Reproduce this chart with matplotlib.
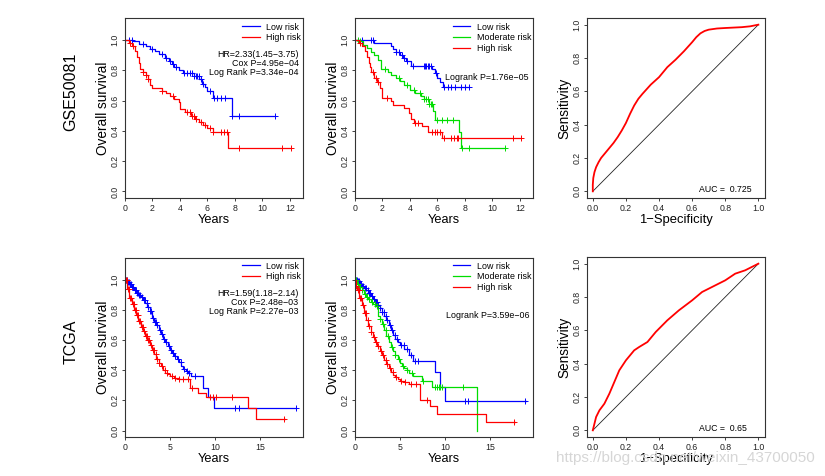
import numpy as np
import matplotlib
matplotlib.use("Agg")
import matplotlib.pyplot as plt

plt.rcParams['font.family'] = ['Liberation Sans', 'DejaVu Sans']

# ---------------- data ----------------
# GSE50081, 2 groups
g2_low_t = [0.6, 1.0, 1.5, 1.8, 2.2, 2.5, 2.9, 3.2, 3.4, 3.6, 3.9, 4.2, 5.0, 5.4, 5.6, 5.8, 6.0, 6.4, 7.75]
g2_low_s = [0.99, 0.975, 0.96, 0.94, 0.925, 0.905, 0.88, 0.86, 0.84, 0.82, 0.80, 0.785, 0.76, 0.74, 0.71, 0.69, 0.66, 0.62, 0.50]
g2_low_end = 10.9
g2_low_c = [0.3, 0.5, 1.3, 2.0, 2.7, 3.0, 3.3, 3.5, 3.7, 4.3, 4.5, 4.7, 4.9, 5.05, 5.15, 5.25, 5.35, 5.5, 5.7,
            6.2, 6.5, 6.7, 7.0, 7.3, 7.8, 8.3, 10.9]
g2_high_t = [0.3, 0.5, 0.7, 0.85, 1.0, 1.1, 1.3, 1.5, 1.7, 1.85, 2.0, 2.7, 3.0, 3.3, 3.6, 3.9, 4.0, 4.4, 4.8,
             5.1, 5.4, 5.7, 6.0, 6.4, 7.5]
g2_high_s = [0.98, 0.96, 0.93, 0.89, 0.85, 0.81, 0.79, 0.77, 0.74, 0.70, 0.68, 0.665, 0.65, 0.63, 0.61, 0.59,
             0.545, 0.525, 0.50, 0.48, 0.46, 0.44, 0.42, 0.39, 0.29]
g2_high_end = 12.1
g2_high_c = [0.4, 0.6, 1.3, 1.5, 1.7, 2.7, 3.5, 4.5, 4.7, 4.9, 5.0, 5.2, 5.5, 5.8, 6.2, 6.4, 7.0, 7.2, 7.4,
             8.3, 11.4, 12.1]

# GSE50081, 3 groups
g3_low_t = [1.4, 2.6, 2.8, 3.0, 3.3, 3.5, 3.7, 4.1, 5.6, 5.8, 6.0, 6.2, 6.4]
g3_low_s = [0.98, 0.96, 0.94, 0.92, 0.90, 0.88, 0.86, 0.83, 0.81, 0.78, 0.75, 0.72, 0.69]
g3_low_end = 8.3
g3_low_c = [0.5, 1.2, 1.3, 3.0, 3.2, 3.4, 3.6, 3.8, 4.2, 5.0, 5.1, 5.2, 5.3, 5.4, 5.5, 5.9, 6.5, 6.8,
            7.0, 7.3, 7.7, 8.0, 8.3]
g3_mod_t = [0.3, 0.6, 0.9, 1.2, 1.4, 1.7, 1.9, 2.4, 2.6, 3.0, 3.3, 3.6, 4.0, 4.4, 4.8, 5.0, 5.4, 5.7, 5.8, 7.6, 7.7]
g3_mod_s = [0.99, 0.97, 0.95, 0.92, 0.90, 0.87, 0.81, 0.79, 0.77, 0.75, 0.73, 0.70, 0.67, 0.65, 0.63, 0.61,
            0.58, 0.53, 0.475, 0.39, 0.285]
g3_mod_end = 10.9
g3_mod_c = [0.2, 0.4, 2.2, 3.2, 3.8, 4.3, 4.7, 5.0, 5.2, 5.3, 5.4, 5.5, 5.6, 6.0, 6.3, 6.7, 7.1, 7.8, 8.3, 10.9]
g3_high_t = [0.3, 0.5, 0.7, 0.9, 1.0, 1.1, 1.2, 1.4, 1.6, 1.8, 2.0, 2.6, 2.8, 3.6, 3.9, 4.1, 4.3, 4.9, 5.3, 6.3]
g3_high_s = [0.98, 0.96, 0.93, 0.89, 0.85, 0.82, 0.79, 0.75, 0.72, 0.68, 0.62, 0.60, 0.57, 0.55, 0.52, 0.48,
             0.455, 0.43, 0.39, 0.35]
g3_high_end = 12.1
g3_high_c = [0.4, 1.3, 1.5, 1.7, 2.3, 4.4, 4.6, 5.6, 5.8, 6.0, 6.2, 6.5, 7.0, 7.2, 7.4, 7.5, 11.5, 12.1]

# TCGA, 2 groups
t2_low_t = [0.25, 0.5, 0.75, 1.0, 1.25, 1.5, 1.75, 2.0, 2.25, 2.5, 2.75, 3.0, 3.25, 3.5, 3.75, 4.0, 4.25, 4.5,
            4.75, 5.0, 5.25, 5.5, 5.75, 6.0, 6.25, 6.5, 6.75, 7.0, 7.3, 8.7, 9.25, 9.9]
t2_low_s = [0.985, 0.97, 0.955, 0.935, 0.915, 0.90, 0.885, 0.865, 0.845, 0.82, 0.79, 0.75, 0.72, 0.70, 0.67,
            0.64, 0.61, 0.585, 0.56, 0.535, 0.515, 0.495, 0.475, 0.455, 0.43, 0.41, 0.395, 0.38, 0.365, 0.28,
            0.22, 0.15]
t2_low_end = 19.0
t2_low_c = [0.1, 0.2, 0.3, 0.4, 0.6, 0.7, 0.8, 0.9, 1.1, 1.2, 1.3, 1.4, 1.6, 1.7, 1.9, 2.1, 2.2, 2.4, 2.6,
            2.8, 2.9, 3.1, 3.3, 3.4, 3.6, 3.9, 4.1, 4.3, 4.6, 4.9, 5.1, 5.3, 5.6, 5.9, 6.2, 6.6, 6.9, 7.1,
            7.8, 12.2, 12.7, 19.0]
t2_high_t = [0.25, 0.5, 0.75, 1.0, 1.25, 1.5, 1.75, 2.0, 2.25, 2.5, 2.75, 3.0, 3.25, 3.5, 3.75, 4.0, 4.25,
             4.5, 4.75, 5.0, 5.5, 6.0, 7.2, 8.1, 9.0, 13.7, 14.6]
t2_high_s = [0.94, 0.88, 0.84, 0.80, 0.77, 0.73, 0.69, 0.66, 0.63, 0.60, 0.57, 0.535, 0.51, 0.475, 0.45,
             0.425, 0.40, 0.385, 0.375, 0.365, 0.35, 0.345, 0.28, 0.25, 0.22, 0.15, 0.075]
t2_high_end = 17.8
t2_high_c = [0.1, 0.2, 0.35, 0.45, 0.6, 0.7, 0.85, 0.95, 1.1, 1.2, 1.35, 1.45, 1.6, 1.7, 1.85, 1.95, 2.1,
             2.3, 2.4, 2.6, 2.7, 2.9, 3.1, 3.2, 3.4, 3.6, 3.8, 4.1, 4.4, 4.7, 5.2, 5.6, 6.0, 6.5, 7.0, 7.5,
             9.5, 9.8, 10.1, 11.9, 17.7]

# TCGA, 3 groups
t3_low_t = [0.25, 0.5, 0.75, 1.0, 1.25, 1.5, 1.75, 2.0, 2.25, 2.5, 2.75, 3.0, 3.25, 3.5, 3.75, 4.0, 4.25, 4.5,
            4.75, 5.0, 5.5, 6.0, 6.4, 8.9, 9.4, 10.0]
t3_low_s = [0.99, 0.975, 0.96, 0.945, 0.93, 0.91, 0.89, 0.875, 0.855, 0.835, 0.81, 0.785, 0.76, 0.735, 0.70,
            0.665, 0.635, 0.605, 0.585, 0.565, 0.54, 0.50, 0.46, 0.39, 0.29, 0.195]
t3_low_end = 19.0
t3_low_c = [0.1, 0.2, 0.3, 0.4, 0.6, 0.7, 0.8, 0.9, 1.1, 1.2, 1.4, 1.6, 1.7, 1.9, 2.1, 2.3, 2.4, 2.6, 2.8,
            3.0, 3.2, 3.4, 3.6, 3.9, 4.1, 4.4, 4.7, 5.1, 5.4, 5.8, 6.2, 6.7, 7.0, 12.2, 12.6, 18.9]
t3_mod_t = [0.25, 0.5, 0.75, 1.0, 1.25, 1.5, 1.75, 2.0, 2.25, 2.5, 2.6, 2.75, 3.0, 3.25, 3.5, 3.75, 4.0, 4.25,
            4.5, 4.75, 5.0, 5.25, 5.5, 5.75, 6.0, 6.5, 7.5, 8.6, 13.6]
t3_mod_s = [0.97, 0.95, 0.93, 0.905, 0.885, 0.87, 0.855, 0.84, 0.825, 0.815, 0.76, 0.74, 0.71, 0.67, 0.63,
            0.59, 0.555, 0.525, 0.50, 0.475, 0.45, 0.43, 0.415, 0.40, 0.385, 0.365, 0.33, 0.29, 0.0]
t3_mod_end = 13.6
t3_mod_c = [0.15, 0.35, 0.55, 0.8, 1.1, 1.3, 1.6, 1.9, 2.2, 2.4, 2.8, 3.1, 3.4, 3.7, 4.1, 4.5, 4.9, 5.3,
            5.8, 6.3, 7.6, 8.9, 9.1, 9.3, 9.5, 9.7, 12.0]
t3_high_t = [0.1, 0.25, 0.5, 0.75, 1.0, 1.25, 1.5, 1.75, 2.0, 2.25, 2.5, 2.75, 3.0, 3.25, 3.5, 3.75, 4.0,
             4.25, 4.5, 4.75, 5.0, 5.5, 6.0, 7.2, 8.3, 9.1, 14.6]
t3_high_s = [0.96, 0.93, 0.88, 0.83, 0.78, 0.735, 0.695, 0.655, 0.62, 0.59, 0.56, 0.53, 0.50, 0.47, 0.44,
             0.415, 0.39, 0.37, 0.355, 0.34, 0.33, 0.32, 0.31, 0.20, 0.16, 0.11, 0.055]
t3_high_end = 17.8
t3_high_c = [0.15, 0.3, 0.4, 0.6, 0.7, 0.9, 1.1, 1.2, 1.4, 1.6, 1.8, 2.1, 2.3, 2.6, 2.9, 3.1, 3.4, 3.6,
             3.9, 4.2, 4.6, 5.1, 5.6, 6.2, 6.8, 8.0, 17.7]

# ROC curves
roc1_fpr = [0.0, 0.0, 0.003, 0.01, 0.02, 0.035, 0.05, 0.075, 0.1, 0.125, 0.15, 0.175, 0.2, 0.225, 0.25, 0.275,
            0.3, 0.35, 0.4, 0.45, 0.5, 0.55, 0.6, 0.625, 0.65, 0.675, 0.7, 0.75, 0.8, 0.9, 0.95, 1.0]
roc1_tpr = [0.0, 0.04, 0.08, 0.115, 0.145, 0.175, 0.2, 0.23, 0.26, 0.29, 0.325, 0.365, 0.41, 0.465, 0.515, 0.555,
            0.585, 0.64, 0.685, 0.745, 0.79, 0.84, 0.895, 0.925, 0.948, 0.962, 0.97, 0.977, 0.98, 0.985, 0.99, 1.0]
roc2_fpr = [0.0, 0.01, 0.02, 0.04, 0.07, 0.1, 0.13, 0.16, 0.2, 0.25, 0.28, 0.33, 0.38, 0.45, 0.52, 0.6, 0.66,
            0.72, 0.8, 0.86, 0.92, 1.0]
roc2_tpr = [0.0, 0.04, 0.08, 0.12, 0.16, 0.22, 0.29, 0.36, 0.42, 0.48, 0.50, 0.53, 0.59, 0.66, 0.72, 0.78,
            0.83, 0.86, 0.90, 0.94, 0.96, 1.0]
diag = [0.0, 1.0]
auc_labels = ['AUC =  0.725', 'AUC =  0.65']

row_labels = ['GSE50081', 'TCGA']
km_ticks_top = [0, 2, 4, 6, 8, 10, 12]
km_ticks_bot = [0, 5, 10, 15]
prob_ticks = [0.0, 0.2, 0.4, 0.6, 0.8, 1.0]

BLUE, RED, GREEN = '#0000FF', '#FF0000', '#00DD00'

# ---------------- figure ----------------
W, H = 825, 476
fig = plt.figure(figsize=(W / 100, H / 100), dpi=100)


def axes_px(l, t, r, b):
    return fig.add_axes([l / W, 1 - b / H, (r - l) / W, (b - t) / H])


def style(ax, xt, yt):
    for sp in ax.spines.values():
        sp.set_linewidth(0.8)
        sp.set_color('#333333')
    ax.set_xticks(xt)
    ax.set_yticks(yt)
    ax.set_xticklabels([f'{v:g}' for v in xt])
    ax.set_yticklabels([f'{v:.1f}' for v in yt])
    ax.tick_params(labelsize=6.3, length=2.5, width=0.6, pad=1.5, colors='#222222')
    for lab in ax.get_yticklabels():
        lab.set_rotation(90)
        lab.set_va('center')


def km(ax, t, s, end, cens, color, label):
    tt = np.r_[0.0, t, end]
    ss = np.r_[1.0, s, s[-1]]
    line, = ax.step(tt, ss, where='post', color=color, lw=0.9, label=label)
    c = np.asarray(cens, dtype=float)
    idx = np.searchsorted(tt, c, side='right') - 1
    ax.plot(c, ss[idx], ls='none', marker='+', color=color, ms=4.8, mew=0.7)
    return line


def km_axes(ax, xmax, xt):
    ax.set_xlim(0, xmax)
    ax.set_ylim(-0.043, 1.145)
    style(ax, xt, prob_ticks)
    ax.set_xlabel('Years', fontsize=9.2, labelpad=1)
    ax.set_ylabel('Overall survival', fontsize=9.8, labelpad=0.5)


def roc_axes(ax, fpr, tpr, auc):
    ax.plot(diag, diag, color='#222222', lw=0.6)
    ax.plot(fpr, tpr, color=RED, lw=1.3)
    ax.set_xlim(-0.035, 1.04)
    ax.set_ylim(-0.04, 1.04)
    style(ax, prob_ticks, prob_ticks)
    ax.set_xticklabels([f'{v:.1f}' for v in prob_ticks])
    ax.text(0.64, 0.01, auc, fontsize=6.3, ha='left', va='center')
    ax.set_xlabel('1\u2212Specificity', fontsize=9.4, labelpad=1)
    ax.set_ylabel('Sensitivity', fontsize=9.8, labelpad=0.5)


def leg(ax, handles, y):
    ax.legend(handles=handles, loc='upper right', bbox_to_anchor=(0.99, y), frameon=False,
              fontsize=6.4, handlelength=2.0, handletextpad=0.7, labelspacing=0.2,
              borderpad=0, borderaxespad=0)


lefts = [125, 355, 587]
rights = [303, 533, 765]

# top row
ax1 = axes_px(lefts[0], 18, rights[0], 198)
h1 = km(ax1, g2_low_t, g2_low_s, g2_low_end, g2_low_c, BLUE, 'Low risk')
h2 = km(ax1, g2_high_t, g2_high_s, g2_high_end, g2_high_c, RED, 'High risk')
km_axes(ax1, 12.95, km_ticks_top)
leg(ax1, [h1, h2], 0.975)
for yy, txt in zip([0.80, 0.75, 0.70], ['HR=2.33(1.45\u22123.75)', 'Cox P=4.95e\u221204', 'Log Rank P=3.34e\u221204']):
    ax1.text(0.975, yy, txt, transform=ax1.transAxes, ha='right', va='center', fontsize=6.4)

ax2 = axes_px(lefts[1], 18, rights[1], 198)
a = km(ax2, g3_low_t, g3_low_s, g3_low_end, g3_low_c, BLUE, 'Low risk')
b = km(ax2, g3_mod_t, g3_mod_s, g3_mod_end, g3_mod_c, GREEN, 'Moderate risk')
c = km(ax2, g3_high_t, g3_high_s, g3_high_end, g3_high_c, RED, 'High risk')
km_axes(ax2, 12.95, km_ticks_top)
leg(ax2, [a, b, c], 0.975)
ax2.text(0.978, 0.672, 'Logrank P=1.76e\u221205', transform=ax2.transAxes, ha='right', va='center', fontsize=6.4)

ax3 = axes_px(lefts[2], 18, rights[2], 198)
roc_axes(ax3, roc1_fpr, roc1_tpr, auc_labels[0])

# bottom row
ax4 = axes_px(lefts[0], 258, rights[0], 437)
h1 = km(ax4, t2_low_t, t2_low_s, t2_low_end, t2_low_c, BLUE, 'Low risk')
h2 = km(ax4, t2_high_t, t2_high_s, t2_high_end, t2_high_c, RED, 'High risk')
km_axes(ax4, 19.8, km_ticks_bot)
leg(ax4, [h1, h2], 0.98)
for yy, txt in zip([0.803, 0.753, 0.70], ['HR=1.59(1.18\u22122.14)', 'Cox P=2.48e\u221203', 'Log Rank P=2.27e\u221203']):
    ax4.text(0.975, yy, txt, transform=ax4.transAxes, ha='right', va='center', fontsize=6.4)

ax5 = axes_px(lefts[1], 258, rights[1], 437)
a = km(ax5, t3_low_t, t3_low_s, t3_low_end, t3_low_c, BLUE, 'Low risk')
b = km(ax5, t3_mod_t, t3_mod_s, t3_mod_end, t3_mod_c, GREEN, 'Moderate risk')
c = km(ax5, t3_high_t, t3_high_s, t3_high_end, t3_high_c, RED, 'High risk')
km_axes(ax5, 19.8, km_ticks_bot)
leg(ax5, [a, b, c], 0.98)
ax5.text(0.978, 0.676, 'Logrank P=3.59e\u221206', transform=ax5.transAxes, ha='right', va='center', fontsize=6.4)

ax6 = axes_px(lefts[2], 257, rights[2], 437)
roc_axes(ax6, roc2_fpr, roc2_tpr, auc_labels[1])

# row labels
fig.text(71 / W, 1 - 92 / H, row_labels[0], rotation=90, ha='center', va='center', fontsize=11.5)
fig.text(71 / W, 1 - 341.5 / H, row_labels[1], rotation=90, ha='center', va='center', fontsize=11.5)

# watermark (sits over the ROC x label, as in the source image)
fig.text(815 / W, 1 - 458 / H, 'https://blog.csdn.net/weixin_43700050', ha='right', va='center',
         fontsize=11, color='#d6d6d6', zorder=0)

fig.savefig('out.png', dpi=100)
